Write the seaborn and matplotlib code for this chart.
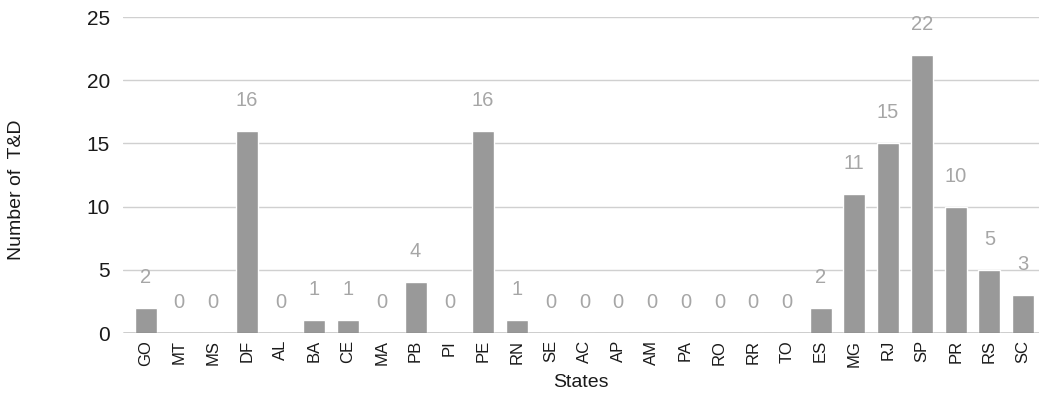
import seaborn as sns
import matplotlib.pyplot as plt
import pandas as pd

# data
states = ['GO', 'MT', 'MS', 'DF', 'AL', 'BA', 'CE', 'MA', 'PB', 'PI', 'PE', 'RN', 'SE', 'AC',
          'AP', 'AM', 'PA', 'RO', 'RR', 'TO', 'ES', 'MG', 'RJ', 'SP', 'PR', 'RS', 'SC']
counts = [2, 0, 0, 16, 0, 1, 1, 0, 4, 0, 16, 1, 0, 0,
          0, 0, 0, 0, 0, 0, 2, 11, 15, 22, 10, 5, 3]
y_ticks = [0, 5, 10, 15, 20, 25]

df = pd.DataFrame({'state': states, 'count': counts})

sns.set_style('white')
plt.rcParams['font.family'] = ['Liberation Sans', 'DejaVu Sans']

fig = plt.figure(figsize=(10.39, 3.96), dpi=100)
ax = fig.add_axes([0.118, 0.159, 0.882, 0.798])

sns.barplot(data=df, x='state', y='count', color='#999999', saturation=1,
            width=0.65, ax=ax, zorder=3)

# value labels above each bar
for i, v in enumerate(counts):
    ax.annotate(str(v), (i, v), xytext=(0, 22), textcoords='offset points',
                ha='center', va='center', fontsize=14.5, color='#a6a6a6')

ax.set_ylim(0, 25)
ax.set_xlim(-0.68, 26.47)
ax.set_yticks(y_ticks)
ax.yaxis.grid(True, color='#d0d0d0', linewidth=1, zorder=0)
ax.axhline(0, color='#333333', linewidth=1, zorder=4)
for s in ax.spines.values():
    s.set_visible(False)

ax.tick_params(axis='y', length=0, pad=9, labelsize=15, labelcolor='#1a1a1a')
ax.tick_params(axis='x', length=0, pad=5, labelsize=12, labelrotation=90, labelcolor='#1a1a1a')

ax.set_xlabel('States', fontsize=14, color='#1a1a1a', labelpad=5)
ax.set_ylabel('Number of  T&D', fontsize=14, color='#1a1a1a')
# the y title sits a bit below the middle in the original
ax.yaxis.set_label_coords(-0.107, 0.455)

fig.savefig('out.png', dpi=100)
